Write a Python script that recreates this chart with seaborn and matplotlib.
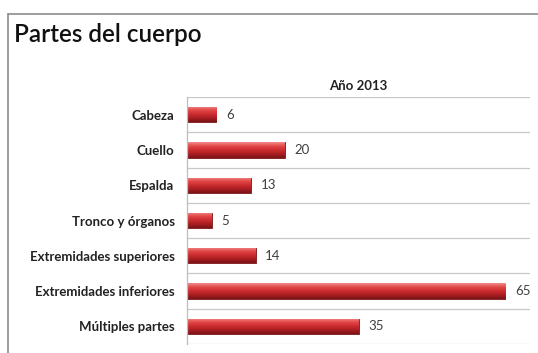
import numpy as np
import pandas as pd
import matplotlib
matplotlib.use("Agg")
import matplotlib.pyplot as plt
import seaborn as sns
from matplotlib.lines import Line2D
from matplotlib.colors import LinearSegmentedColormap

categorias = ["Cabeza", "Cuello", "Espalda", "Tronco y órganos",
              "Extremidades superiores", "Extremidades inferiores", "Múltiples partes"]
valores = [6, 20, 13, 5, 14, 65, 35]
titulo = "Partes del cuerpo"
serie = "Año 2013"

sns.set_theme(style="white")
plt.rcParams['font.family'] = ['Lato', 'DejaVu Sans']

df = pd.DataFrame({"cat": categorias, "val": valores})

fig = plt.figure(figsize=(5.38, 3.53), dpi=100)
ax = fig.add_axes([187/538, 1-344/353, (530-187)/538, (344-97)/353])

sns.barplot(data=df, y="cat", x="val", orient="h", color="#c62a2e",
            width=0.43, ax=ax, edgecolor="#7a1416", linewidth=0.6)

# cylinder-like gradient on each bar (light on top, dark at bottom)
cmap = LinearSegmentedColormap.from_list(
    "cyl", ["#f28a8a", "#e24848", "#cc2c30", "#a81e22", "#7a1416"])
grad = np.linspace(0, 1, 64).reshape(-1, 1)
for p in ax.patches:
    x0, y0 = p.get_x(), p.get_y()
    w, h = p.get_width(), p.get_height()
    im = ax.imshow(grad, cmap=cmap, aspect="auto",
                   extent=(x0, x0 + w, y0 + h, y0), origin="upper",
                   zorder=p.get_zorder() + 0.1)
    im.set_clip_path(p)

ax.set_xlim(0, 70)
ax.set_ylim(len(categorias) - 0.5, -0.5)
ax.set_xlabel("")
ax.set_ylabel("")
ax.set_xticks([])
ax.set_yticks(range(len(categorias)))
ax.set_yticklabels(categorias, fontsize=9.5, fontweight="bold", color="#222222")
ax.tick_params(axis="y", length=0, pad=9)

for i in range(len(categorias) + 1):
    ax.axhline(i - 0.5, color="#c8c8c8", linewidth=0.9, zorder=0)

for s in ["top", "right", "bottom"]:
    ax.spines[s].set_visible(False)
ax.spines["left"].set_color("#bdbdbd")
ax.spines["left"].set_linewidth(0.9)

for i, v in enumerate(valores):
    ax.annotate(str(v), xy=(v, i), xytext=(7, 0), textcoords="offset points",
                va="center", ha="left", fontsize=9.5, color="#404040")

ax.set_title(serie, fontsize=9.5, fontweight="bold", color="#222222", pad=5)

fig.text(14/538, 1-35/353, titulo, fontsize=17.5, fontweight="semibold",
         color="#111111", va="center", ha="left")

fig.add_artist(Line2D([8/538, 8/538], [0, 1-14/353], color="#8c8c8c", linewidth=1.2,
                      transform=fig.transFigure))
fig.add_artist(Line2D([8/538, 1], [1-14/353, 1-14/353], color="#8c8c8c", linewidth=1.2,
                      transform=fig.transFigure))

fig.savefig("out.png", dpi=100)
